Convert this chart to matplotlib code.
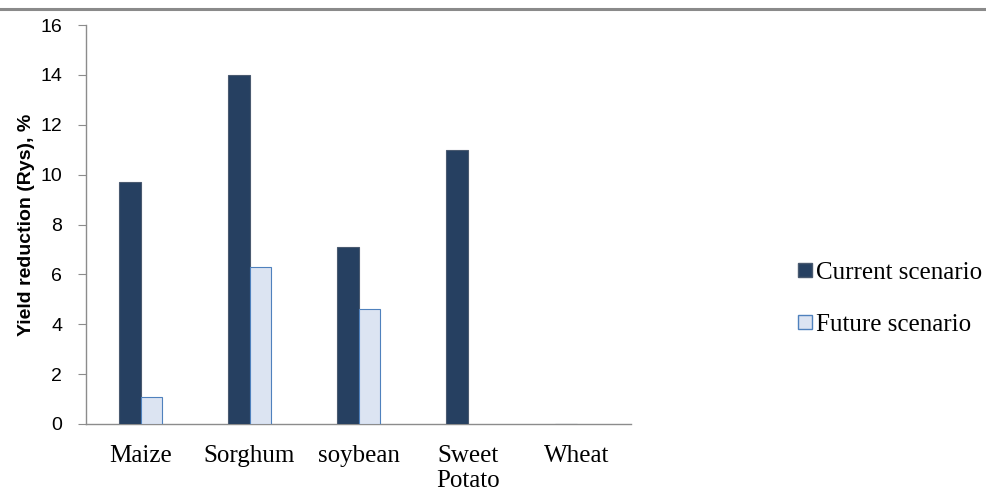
import matplotlib
matplotlib.use("Agg")
import matplotlib.pyplot as plt
import numpy as np
from matplotlib.lines import Line2D

crops = ["Maize", "Sorghum", "soybean", "Sweet\nPotato", "Wheat"]
current = [9.7, 14.0, 7.1, 11.0, 0.0]
future = [1.1, 6.3, 4.6, 0.0, 0.0]
yticks = [0, 2, 4, 6, 8, 10, 12, 14, 16]

fig = plt.figure(figsize=(9.86, 4.93), dpi=100)
ax = fig.add_axes([0.0872, 0.14, 0.553, 0.809])

x = np.arange(len(crops))
w = 0.2
dark = "#264061"
light = "#dce4f2"
ax.bar(x - w / 2, current, w, color=dark, edgecolor="#4a5a70", linewidth=0.8,
       label="Current scenario", zorder=3)
fut_vals = [v if v > 0 else np.nan for v in future]
ax.bar(x + w / 2, fut_vals, w, color=light, edgecolor="#4f81bd", linewidth=0.8,
       label="Future scenario", zorder=3)

ax.set_xlim(-0.5, len(crops) - 0.5)
ax.set_ylim(0, 16)
ax.set_yticks(yticks)
ax.set_yticklabels([str(t) for t in yticks], family="Liberation Sans", fontsize=14)
ax.set_xticks(x)
ax.set_xticklabels(crops, family="Liberation Serif", fontsize=18, linespacing=1.2)
ax.tick_params(axis="x", length=0, pad=15)
ax.tick_params(axis="y", length=6, width=0.8, color="#8c8c8c", pad=11)

for s in ["top", "right"]:
    ax.spines[s].set_visible(False)
for s in ["left", "bottom"]:
    ax.spines[s].set_color("#8c8c8c")
    ax.spines[s].set_linewidth(1.0)

ax.set_ylabel("Yield reduction (Rys), %", family="Liberation Sans",
              fontweight="bold", fontsize=14, labelpad=4)

handles = [
    Line2D([], [], marker="s", linestyle="none", markersize=10,
           markerfacecolor=dark, markeredgecolor="#4a5a70"),
    Line2D([], [], marker="s", linestyle="none", markersize=10,
           markerfacecolor=light, markeredgecolor="#4f81bd"),
]
fig.legend(handles, ["Current scenario", "Future scenario"],
           loc="center left", bbox_to_anchor=(0.786, 0.3945),
           frameon=False, prop={"family": "Liberation Serif", "size": 18},
           handlelength=0.6, handletextpad=0.15, labelspacing=1.2)

# thin rule across the top of the figure
fig.add_artist(Line2D([0, 1], [0.981, 0.981], transform=fig.transFigure,
                      color="#8a8a8a", linewidth=2.2))

fig.savefig("out.png", dpi=100)
